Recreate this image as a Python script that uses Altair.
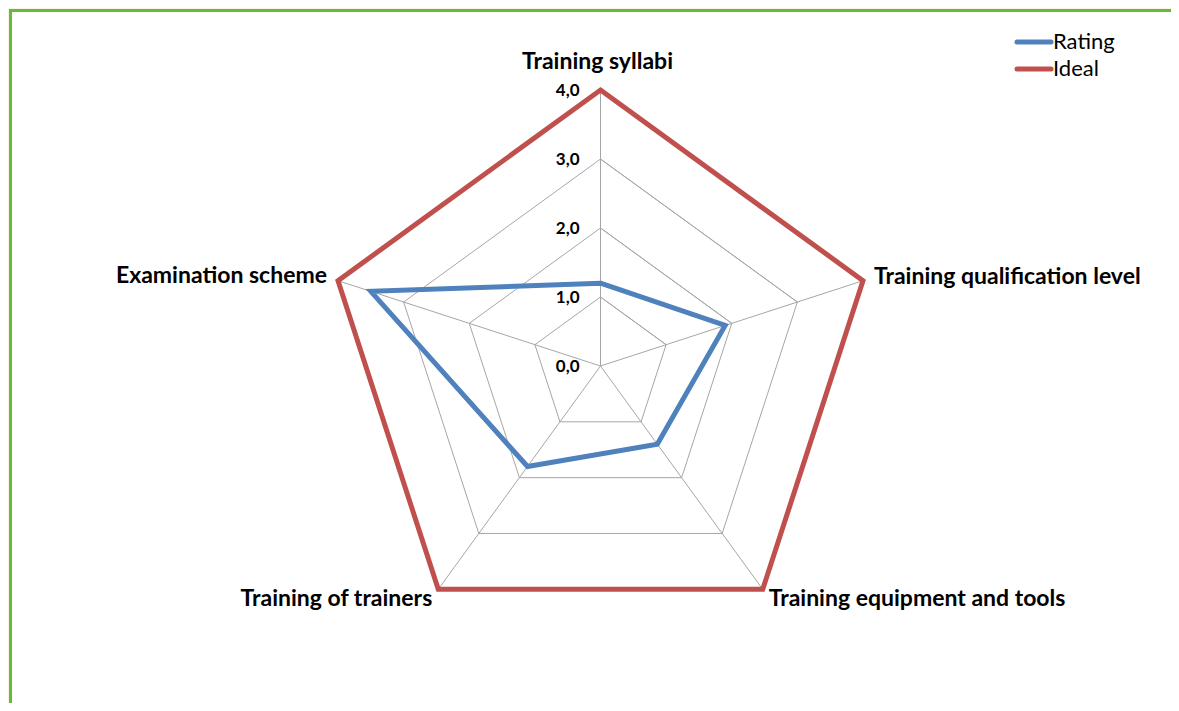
import math
import altair as alt
import pandas as pd

# ---------------- data ----------------
CATEGORIES = [
    "Training syllabi",
    "Training qualification level",
    "Training equipment and tools",
    "Training of trainers",
    "Examination scheme",
]
SERIES = ["Rating", "Ideal"]
RATING = [1.2, 1.9, 1.4, 1.8, 3.5]
IDEAL = [4.0, 4.0, 4.0, 4.0, 4.0]
TICK_VALUES = [0, 1, 2, 3, 4]
TICK_LABELS = ["0,0", "1,0", "2,0", "3,0", "4,0"]
COLORS = ["#4f81bd", "#c0504d"]

# ---------------- layout ----------------
W, H = 1163, 695
CX, CY = 592.5, 358.0      # centre of radar in canvas pixels
UNIT = 69.0                # pixels per rating unit
FONT = "Lato"
GRID = "#a6a6a6"

xs = alt.Scale(domain=[-CX / UNIT, (W - CX) / UNIT], range=[0, W], nice=False, zero=False)
ys = alt.Scale(domain=[-(H - CY) / UNIT, CY / UNIT], range=[H, 0], nice=False, zero=False)
N = len(CATEGORIES)


def ang(k):
    return math.radians(90 - 360.0 / N * k)


def poly_rows(values, **extra):
    rows = []
    seq = list(range(N)) + [0, 1]
    for j, k in enumerate(seq):
        r = values[k]
        rows.append(dict(order=j, x=r * math.cos(ang(k)), y=r * math.sin(ang(k)), **extra))
    return rows


series_rows = []
for name, vals in zip(SERIES, [RATING, IDEAL]):
    series_rows += poly_rows(vals, series=name)
series_df = pd.DataFrame(series_rows)

grid_rows = []
for lv in TICK_VALUES[1:]:
    grid_rows += poly_rows([lv] * N, level=lv)
grid_df = pd.DataFrame(grid_rows)

rmax = max(TICK_VALUES)
spoke_df = pd.DataFrame({
    "cat": CATEGORIES,
    "cx": [0.0] * N,
    "cy": [0.0] * N,
    "x": [rmax * math.cos(ang(k)) for k in range(N)],
    "y": [rmax * math.sin(ang(k)) for k in range(N)],
})

tick_df = pd.DataFrame({"x": [0.0] * len(TICK_VALUES), "y": TICK_VALUES, "label": TICK_LABELS})

one = pd.DataFrame({"a": [0]})

X = lambda f: alt.X(f, scale=xs, axis=None)
Y = lambda f: alt.Y(f, scale=ys, axis=None)

frame = alt.Chart(one).mark_rect(fill="white", stroke="#66bb33", strokeWidth=3).encode(
    x=alt.value(2.5), x2=alt.value(W + 40), y=alt.value(2.5), y2=alt.value(H + 40)
)

grid = alt.Chart(grid_df).mark_line(strokeWidth=1, color=GRID).encode(
    x=X("x:Q"), y=Y("y:Q"), detail="level:N", order="order:Q"
)

spokes = alt.Chart(spoke_df).mark_rule(strokeWidth=1, color=GRID).encode(
    x=X("cx:Q"), y=Y("cy:Q"), x2="x:Q", y2="y:Q"
)

lines = alt.Chart(series_df).mark_line(strokeWidth=5, strokeJoin="miter").encode(
    x=X("x:Q"), y=Y("y:Q"),
    color=alt.Color("series:N", scale=alt.Scale(domain=SERIES, range=COLORS), legend=None),
    order="order:Q",
)

ticks = alt.Chart(tick_df).mark_text(
    align="right", baseline="middle", dx=-21, dy=1, fontSize=17, fontWeight="bold", font=FONT, color="#000000"
).encode(x=X("x:Q"), y=Y("y:Q"), text="label:N")

# category labels: (align, dx, dy) per category
LABEL_LAYOUT = [("center", -3, -28), ("left", 11, -4), ("left", 6, 10), ("right", -6, 10), ("right", -11, -5)]
label_layers = []
for k, (cat, (al, dx, dy)) in enumerate(zip(CATEGORIES, LABEL_LAYOUT)):
    d = pd.DataFrame({"x": [rmax * math.cos(ang(k))], "y": [rmax * math.sin(ang(k))], "t": [cat]})
    label_layers.append(
        alt.Chart(d).mark_text(
            align=al, baseline="middle", dx=dx, dy=dy, fontSize=23, fontWeight="bold", font=FONT, color="#000000"
        ).encode(x=X("x:Q"), y=Y("y:Q"), text="t:N")
    )

legend_layers = []
for i, (name, col) in enumerate(zip(SERIES, COLORS)):
    yy = 34 + 27 * i
    legend_layers.append(
        alt.Chart(one).mark_rule(strokeWidth=5, color=col, strokeCap="round").encode(
            x=alt.value(1009), x2=alt.value(1043), y=alt.value(yy)
        )
    )
    legend_layers.append(
        alt.Chart(one).mark_text(
            text=name, align="left", baseline="middle", fontSize=22, font=FONT, color="#000000"
        ).encode(x=alt.value(1045), y=alt.value(yy))
    )

chart = alt.layer(frame, grid, spokes, lines, ticks, *label_layers, *legend_layers).properties(
    width=W, height=H, autosize=alt.AutoSizeParams(type="none"), padding=0, background="#f4f5e7"
).configure_view(stroke=None)

chart.save("out.html", embed_options={"renderer": "svg", "actions": False})
